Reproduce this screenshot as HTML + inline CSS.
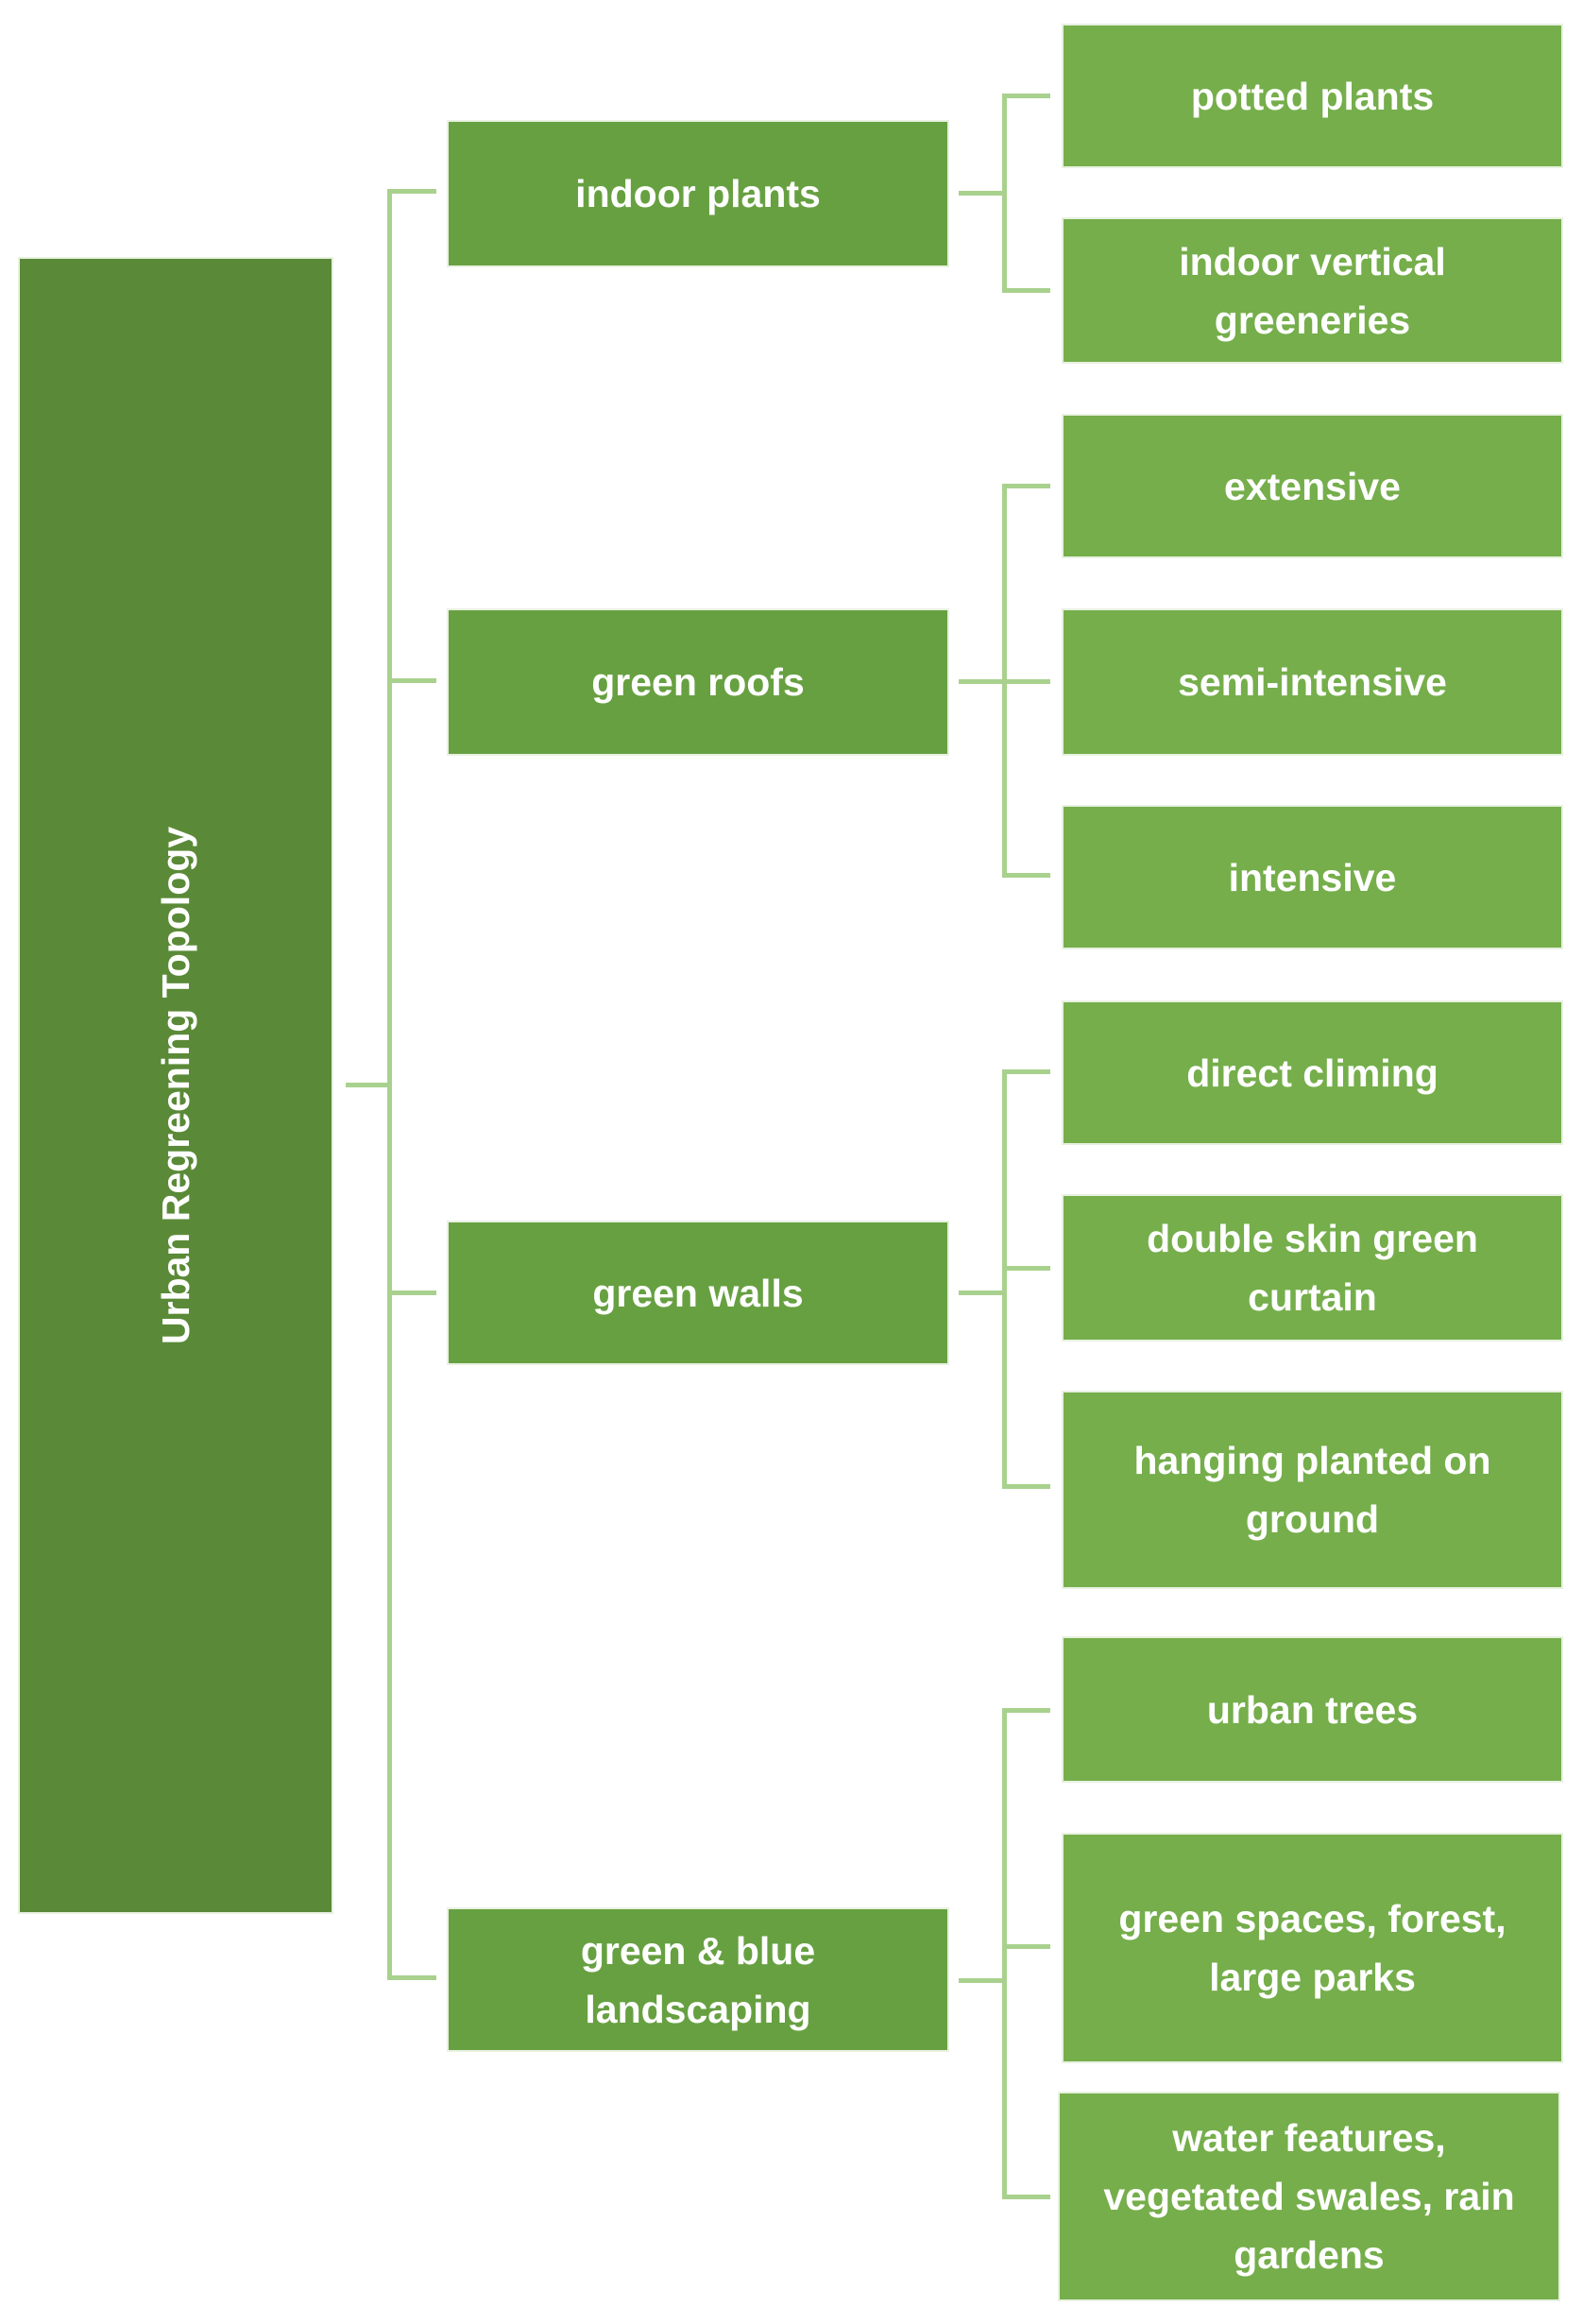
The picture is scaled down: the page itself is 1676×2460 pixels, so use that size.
<!DOCTYPE html>
<html><head><meta charset="utf-8"><style>
body{margin:0;width:1676px;height:2460px;background:#fff;position:relative;font-family:"Liberation Sans",sans-serif;overflow:hidden}
.b{position:absolute;display:flex;align-items:center;justify-content:center;text-align:center;color:#fff;font-size:41px;line-height:62px;font-weight:bold;box-sizing:border-box;border:2px solid #e8f1e0}
.m{background:#67a041}
.r{background:#75ae4b}
.l{position:absolute;background:#a9d18e}
</style></head><body>
<div class="b" style="left:19px;top:272px;width:334px;height:1754px;background:#5a8a37">
<div style="transform:rotate(-90deg);white-space:nowrap">Urban Regreening Topology</div></div>

<div class="b m" style="left:473px;top:127px;width:532px;height:156px">indoor plants</div>
<div class="b m" style="left:473px;top:644px;width:532px;height:156px">green roofs</div>
<div class="b m" style="left:473px;top:1292px;width:532px;height:153px">green walls</div>
<div class="b m" style="left:473px;top:2019px;width:532px;height:153px">green &amp; blue<br>landscaping</div>

<div class="b r" style="left:1124px;top:25px;width:531px;height:153px">potted plants</div>
<div class="b r" style="left:1124px;top:230px;width:531px;height:155px">indoor vertical<br>greeneries</div>
<div class="b r" style="left:1124px;top:438px;width:531px;height:153px">extensive</div>
<div class="b r" style="left:1124px;top:644px;width:531px;height:156px">semi-intensive</div>
<div class="b r" style="left:1124px;top:852px;width:531px;height:153px">intensive</div>
<div class="b r" style="left:1124px;top:1059px;width:531px;height:153px">direct climing</div>
<div class="b r" style="left:1124px;top:1264px;width:531px;height:156px">double skin green<br>curtain</div>
<div class="b r" style="left:1124px;top:1472px;width:531px;height:210px">hanging planted on<br>ground</div>
<div class="b r" style="left:1124px;top:1732px;width:531px;height:155px">urban trees</div>
<div class="b r" style="left:1124px;top:1940px;width:531px;height:244px">green spaces, forest,<br>large parks</div>
<div class="b r" style="left:1120px;top:2214px;width:532px;height:222px">water features,<br>vegetated swales, rain<br>gardens</div>

<!-- root connectors -->
<div class="l" style="left:366px;top:1146px;width:48px;height:5px"></div>
<div class="l" style="left:410px;top:200px;width:5px;height:1896px"></div>
<div class="l" style="left:410px;top:200px;width:52px;height:5px"></div>
<div class="l" style="left:410px;top:718px;width:52px;height:5px"></div>
<div class="l" style="left:410px;top:1366px;width:52px;height:5px"></div>
<div class="l" style="left:410px;top:2091px;width:52px;height:5px"></div>

<!-- indoor -->
<div class="l" style="left:1015px;top:202px;width:48px;height:5px"></div>
<div class="l" style="left:1061px;top:99px;width:5px;height:211px"></div>
<div class="l" style="left:1061px;top:99px;width:51px;height:5px"></div>
<div class="l" style="left:1061px;top:305px;width:51px;height:5px"></div>
<!-- roofs -->
<div class="l" style="left:1015px;top:719px;width:48px;height:5px"></div>
<div class="l" style="left:1061px;top:512px;width:5px;height:417px"></div>
<div class="l" style="left:1061px;top:512px;width:51px;height:5px"></div>
<div class="l" style="left:1061px;top:719px;width:51px;height:5px"></div>
<div class="l" style="left:1061px;top:924px;width:51px;height:5px"></div>
<!-- walls -->
<div class="l" style="left:1015px;top:1366px;width:48px;height:5px"></div>
<div class="l" style="left:1061px;top:1132px;width:5px;height:444px"></div>
<div class="l" style="left:1061px;top:1132px;width:51px;height:5px"></div>
<div class="l" style="left:1061px;top:1340px;width:51px;height:5px"></div>
<div class="l" style="left:1061px;top:1571px;width:51px;height:5px"></div>
<!-- landscaping -->
<div class="l" style="left:1015px;top:2094px;width:48px;height:5px"></div>
<div class="l" style="left:1061px;top:1808px;width:5px;height:520px"></div>
<div class="l" style="left:1061px;top:1808px;width:51px;height:5px"></div>
<div class="l" style="left:1061px;top:2058px;width:51px;height:5px"></div>
<div class="l" style="left:1061px;top:2323px;width:51px;height:5px"></div>
</body></html>
